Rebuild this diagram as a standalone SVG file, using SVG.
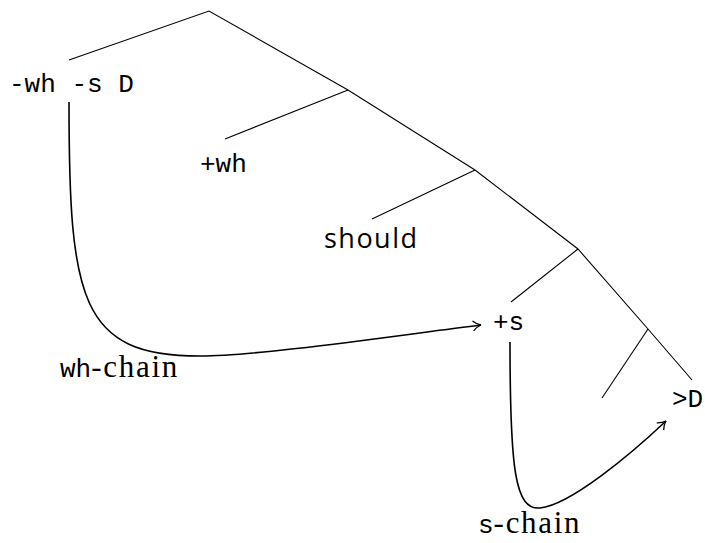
<svg xmlns="http://www.w3.org/2000/svg" width="705" height="543" viewBox="0 0 705 543">
<style>
.t{stroke:#000;stroke-width:1.1;fill:none}
.c{stroke:#000;stroke-width:1.6;fill:none}
.m{font-family:"Liberation Mono",monospace;font-size:26px;fill:#000}
.s{font-family:"Liberation Serif",serif;font-size:31px;fill:#000}
.ss{font-family:"Open Sans",sans-serif;font-size:27px;fill:#000}
</style>
<defs>
<marker id="ar" markerWidth="14" markerHeight="14" refX="10" refY="6" orient="auto" markerUnits="userSpaceOnUse">
<path d="M2,1 Q6,5 10,6 Q6,7 2,11" fill="none" stroke="#000" stroke-width="1.3"/>
</marker>
</defs>
<g id="tree">
<path class="t" d="M69,60 L209,11 L348,90 L475,170 L578,249 L648,329 L692,380"/>
<path class="t" d="M348,90 L225,139"/>
<path class="t" d="M475,170 L372,219"/>
<path class="t" d="M578,249 L511,302"/>
<path class="t" d="M648,329 L602,398"/>
</g>
<g id="n-root"><text class="m" x="9" y="92">-wh -s D</text></g>
<g id="n-wh"><text class="m" x="200" y="172">+wh</text></g>
<g id="n-should"><text class="ss" x="324" y="248" textLength="93">should</text></g>
<g id="n-s"><text class="m" x="493" y="330">+s</text></g>
<g id="n-D"><text class="m" x="672" y="407">&gt;D</text></g>
<g id="connectors">
<path class="c" d="M69,102 C69,300 80,356 200,356 C260,356 400,335 481,325" marker-end="url(#ar)"/>
<path class="c" d="M510,342 C510,470 515,510 540,508 C570,505 630,455 666,421" marker-end="url(#ar)"/>
</g>
<g id="l-wh"><text x="60" y="377"><tspan class="m">wh</tspan><tspan class="s" textLength="86">-chain</tspan></text></g>
<g id="l-s"><text x="478" y="533"><tspan class="m">s</tspan><tspan class="s" textLength="86">-chain</tspan></text></g>
</svg>
